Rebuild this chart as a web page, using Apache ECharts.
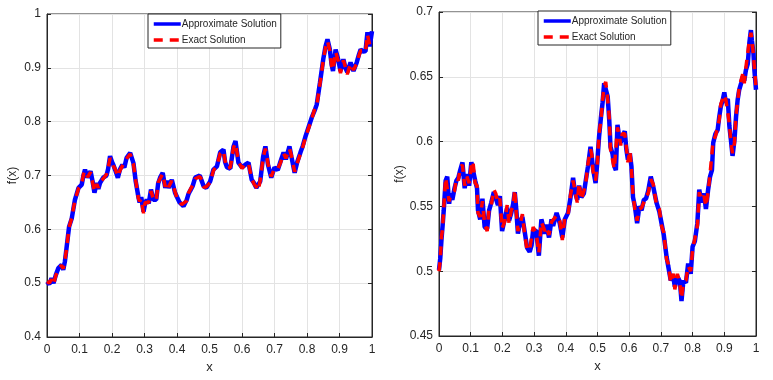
<!DOCTYPE html>
<html>
<head>
<meta charset="utf-8">
<script src="https://cdn.jsdelivr.net/npm/echarts@6/dist/echarts.min.js"></script>
<style>html,body{margin:0;padding:0;background:#fff}#c{width:773px;height:380px}</style>
</head>
<body>
<div id="c"></div>
<script>
// ---- Left panel data ----
const leftX = [0.000,0.007,0.014,0.020,0.027,0.035,0.045,0.050,0.055,0.060,0.068,0.076,0.086,0.097,0.107,0.112,0.117,0.125,0.134,0.140,0.146,0.153,0.158,0.163,0.173,0.183,0.188,0.194,0.200,0.204,0.210,0.218,0.225,0.232,0.238,0.245,0.256,0.266,0.273,0.281,0.285,0.290,0.297,0.302,0.307,0.313,0.320,0.327,0.336,0.342,0.348,0.356,0.364,0.369,0.374,0.384,0.394,0.400,0.408,0.414,0.420,0.430,0.435,0.440,0.448,0.456,0.470,0.476,0.482,0.490,0.502,0.512,0.523,0.533,0.543,0.548,0.554,0.564,0.574,0.580,0.589,0.600,0.610,0.620,0.630,0.638,0.644,0.650,0.656,0.665,0.672,0.680,0.690,0.700,0.710,0.718,0.728,0.735,0.746,0.752,0.762,0.770,0.780,0.787,0.795,0.805,0.816,0.823,0.830,0.840,0.850,0.857,0.863,0.870,0.876,0.880,0.888,0.897,0.903,0.912,0.918,0.924,0.934,0.943,0.953,0.960,0.965,0.973,0.980,0.986,0.993,1.000];
const leftApprox = [0.503,0.498,0.509,0.500,0.515,0.528,0.534,0.525,0.540,0.565,0.605,0.620,0.655,0.677,0.683,0.700,0.711,0.696,0.708,0.690,0.668,0.686,0.675,0.686,0.696,0.700,0.712,0.736,0.725,0.720,0.710,0.696,0.712,0.720,0.715,0.733,0.742,0.723,0.689,0.661,0.650,0.660,0.633,0.648,0.655,0.648,0.674,0.655,0.655,0.685,0.696,0.705,0.677,0.690,0.677,0.692,0.668,0.660,0.650,0.648,0.643,0.655,0.665,0.671,0.680,0.696,0.700,0.690,0.680,0.677,0.689,0.711,0.717,0.743,0.748,0.725,0.715,0.713,0.754,0.764,0.724,0.715,0.720,0.724,0.692,0.685,0.677,0.674,0.689,0.735,0.754,0.720,0.696,0.715,0.710,0.725,0.743,0.730,0.754,0.735,0.705,0.725,0.743,0.755,0.772,0.790,0.810,0.820,0.832,0.873,0.916,0.940,0.953,0.935,0.905,0.894,0.934,0.913,0.894,0.916,0.900,0.892,0.910,0.894,0.910,0.925,0.934,0.930,0.931,0.966,0.940,0.968];
const leftExact = [0.503,0.500,0.507,0.497,0.514,0.527,0.533,0.527,0.541,0.563,0.604,0.621,0.654,0.676,0.684,0.702,0.709,0.697,0.706,0.688,0.670,0.684,0.677,0.688,0.694,0.702,0.714,0.732,0.726,0.718,0.712,0.698,0.710,0.718,0.717,0.731,0.740,0.721,0.691,0.658,0.652,0.657,0.630,0.650,0.653,0.650,0.671,0.657,0.653,0.687,0.694,0.703,0.679,0.688,0.679,0.690,0.670,0.658,0.652,0.646,0.645,0.653,0.667,0.669,0.682,0.694,0.698,0.692,0.678,0.679,0.687,0.709,0.719,0.741,0.746,0.727,0.713,0.715,0.752,0.760,0.726,0.713,0.722,0.722,0.694,0.683,0.679,0.672,0.691,0.733,0.750,0.722,0.698,0.713,0.712,0.723,0.741,0.732,0.750,0.737,0.707,0.723,0.741,0.753,0.770,0.788,0.808,0.822,0.830,0.871,0.914,0.938,0.950,0.933,0.903,0.896,0.930,0.911,0.890,0.914,0.902,0.888,0.908,0.896,0.908,0.923,0.932,0.932,0.929,0.962,0.942,0.952];

// ---- Right panel data ----
const rightX = [0.000,0.004,0.008,0.011,0.015,0.021,0.026,0.032,0.036,0.042,0.049,0.055,0.061,0.067,0.074,0.081,0.088,0.095,0.102,0.107,0.114,0.120,0.123,0.130,0.137,0.144,0.152,0.158,0.165,0.173,0.179,0.186,0.192,0.199,0.207,0.215,0.221,0.228,0.234,0.239,0.244,0.249,0.257,0.263,0.270,0.278,0.286,0.292,0.297,0.307,0.315,0.323,0.334,0.339,0.347,0.355,0.360,0.371,0.381,0.389,0.397,0.407,0.415,0.423,0.428,0.436,0.442,0.449,0.457,0.463,0.470,0.478,0.482,0.486,0.494,0.499,0.505,0.511,0.516,0.521,0.526,0.532,0.537,0.541,0.547,0.553,0.558,0.563,0.568,0.573,0.578,0.586,0.591,0.596,0.602,0.607,0.612,0.618,0.625,0.632,0.639,0.646,0.653,0.660,0.668,0.676,0.686,0.695,0.702,0.709,0.718,0.723,0.731,0.739,0.744,0.752,0.760,0.765,0.771,0.779,0.786,0.794,0.800,0.807,0.815,0.821,0.828,0.836,0.842,0.849,0.855,0.861,0.865,0.872,0.879,0.884,0.889,0.895,0.900,0.905,0.911,0.916,0.921,0.926,0.932,0.937,0.942,0.947,0.953,0.958,0.963,0.968,0.974,0.979,0.984,0.987,0.992,0.995,1.000];
const rightApprox = [0.501,0.510,0.525,0.534,0.547,0.570,0.573,0.552,0.560,0.555,0.564,0.570,0.572,0.578,0.584,0.564,0.575,0.566,0.584,0.583,0.570,0.564,0.547,0.540,0.556,0.534,0.533,0.547,0.553,0.561,0.562,0.551,0.558,0.531,0.540,0.549,0.539,0.545,0.552,0.561,0.547,0.529,0.539,0.542,0.531,0.518,0.515,0.520,0.532,0.531,0.512,0.540,0.529,0.536,0.526,0.540,0.535,0.545,0.537,0.526,0.540,0.545,0.557,0.572,0.562,0.555,0.566,0.557,0.560,0.570,0.581,0.596,0.588,0.579,0.568,0.583,0.604,0.619,0.630,0.645,0.644,0.635,0.617,0.596,0.591,0.581,0.578,0.613,0.604,0.599,0.604,0.608,0.594,0.586,0.591,0.581,0.557,0.550,0.537,0.550,0.547,0.555,0.556,0.562,0.573,0.565,0.553,0.546,0.537,0.528,0.511,0.504,0.493,0.496,0.488,0.496,0.492,0.477,0.493,0.491,0.506,0.498,0.519,0.523,0.537,0.563,0.553,0.560,0.548,0.563,0.573,0.578,0.599,0.606,0.609,0.619,0.627,0.632,0.638,0.630,0.633,0.612,0.601,0.589,0.601,0.619,0.632,0.640,0.645,0.650,0.647,0.655,0.660,0.676,0.686,0.678,0.668,0.655,0.640];
const rightExact = [0.500,0.509,0.527,0.532,0.549,0.572,0.571,0.554,0.558,0.557,0.562,0.572,0.570,0.580,0.582,0.566,0.573,0.568,0.582,0.585,0.568,0.566,0.545,0.542,0.554,0.536,0.531,0.549,0.551,0.563,0.560,0.553,0.556,0.533,0.538,0.551,0.537,0.547,0.550,0.563,0.545,0.531,0.537,0.544,0.529,0.516,0.517,0.518,0.534,0.529,0.514,0.538,0.531,0.534,0.528,0.538,0.537,0.543,0.539,0.524,0.542,0.543,0.559,0.570,0.564,0.553,0.568,0.555,0.562,0.568,0.583,0.594,0.590,0.577,0.570,0.581,0.606,0.617,0.632,0.643,0.646,0.633,0.619,0.594,0.593,0.579,0.580,0.611,0.606,0.597,0.606,0.606,0.596,0.584,0.593,0.579,0.559,0.548,0.539,0.548,0.549,0.553,0.558,0.560,0.571,0.567,0.551,0.548,0.535,0.530,0.509,0.506,0.491,0.498,0.486,0.498,0.490,0.479,0.491,0.493,0.504,0.500,0.517,0.525,0.535,0.561,0.555,0.558,0.550,0.561,0.575,0.576,0.601,0.604,0.611,0.617,0.629,0.630,0.636,0.632,0.631,0.614,0.599,0.591,0.599,0.621,0.630,0.642,0.643,0.652,0.645,0.657,0.658,0.678,0.684,0.680,0.666,0.657,0.642];

// ---- Axis ticks ----
const xTicks = {min: 0, max: 1, interval: 0.1};
const leftYTicks = {min: 0.4, max: 1, interval: 0.1};
const rightYTicks = {min: 0.45, max: 0.7, interval: 0.05};
const names = ['Approximate Solution', 'Exact Solution'];

const zip = (xs, ys) => xs.map((x, i) => [x, ys[i]]);
const axisColor = '#262626';
const font = 'Liberation Sans, Arial, sans-serif';

function xAxisFor(gi) {
  return {
    type: 'value', gridIndex: gi, min: xTicks.min, max: xTicks.max, interval: xTicks.interval,
    name: 'x', nameLocation: 'middle', nameGap: 24,
    nameTextStyle: {color: axisColor, fontSize: 13, fontFamily: font},
    axisLine: {show: true, onZero: false, lineStyle: {color: axisColor, width: 1}},
    axisTick: {show: true, inside: true, length: 4, lineStyle: {color: axisColor}},
    axisLabel: {color: axisColor, fontSize: 12, fontFamily: font, margin: 7},
    splitLine: {show: true, lineStyle: {color: '#e3e3e3', width: 1}}
  };
}
function yAxisFor(gi, t, gap) {
  return {
    type: 'value', gridIndex: gi, min: t.min, max: t.max, interval: t.interval,
    name: 'f(x)', nameLocation: 'middle', nameGap: gap, nameRotate: 90,
    nameTextStyle: {color: axisColor, fontSize: 12, fontFamily: font},
    axisLine: {show: true, onZero: false, lineStyle: {color: axisColor, width: 1}},
    axisTick: {show: true, inside: true, length: 4, lineStyle: {color: axisColor}},
    axisLabel: {color: axisColor, fontSize: 12, fontFamily: font, margin: 6},
    splitLine: {show: true, lineStyle: {color: '#e3e3e3', width: 1}}
  };
}
function yRightFor(gi, t) {
  return {
    type: 'value', gridIndex: gi, min: t.min, max: t.max, interval: t.interval, position: 'right',
    axisLine: {show: true, onZero: false, lineStyle: {color: axisColor, width: 1}},
    axisTick: {show: true, inside: true, length: 4, lineStyle: {color: axisColor}},
    axisLabel: {show: false}, splitLine: {show: false}
  };
}
function lineSeries(name, xi, yi, data, isExact) {
  return {
    name: name, type: 'line', xAxisIndex: xi, yAxisIndex: yi, data: data,
    symbol: 'none', animation: false, z: isExact ? 3 : 2,
    lineStyle: isExact ? {color: '#ff0000', width: 3.5, type: [9, 7]} : {color: '#0000ff', width: 4.5},
    itemStyle: {color: isExact ? '#ff0000' : '#0000ff'}
  };
}
function legendFor(left, top) {
  return {
    data: names, left: left, top: top, orient: 'vertical',
    itemWidth: 27, itemHeight: 10, itemGap: 6,
    padding: [5, 4, 3, 4], borderColor: axisColor, borderWidth: 1, backgroundColor: '#fff',
    itemStyle: {opacity: 0},
    lineStyle: {width: 3.5},
    textStyle: {color: axisColor, fontSize: 10, fontFamily: font, padding: [0, 0, 0, -4]},
    selectedMode: false
  };
}

const chart = echarts.init(document.getElementById('c'), null, {renderer: 'canvas'});
chart.setOption({
  backgroundColor: '#fff',
  animation: false,
  grid: [
    {left: 47, top: 14, right: 401, bottom: 43, show: true, borderColor: axisColor, borderWidth: 1, containLabel: false},
    {left: 439, top: 12, right: 17, bottom: 44, show: true, borderColor: axisColor, borderWidth: 1, containLabel: false}
  ],
  xAxis: [xAxisFor(0), xAxisFor(1)],
  yAxis: [yAxisFor(0, leftYTicks, 28), yAxisFor(1, rightYTicks, 32), yRightFor(0, leftYTicks), yRightFor(1, rightYTicks)],
  legend: [legendFor(148, 14), legendFor(538, 11)],
  series: [
    lineSeries(names[0], 0, 0, zip(leftX, leftApprox), false),
    lineSeries(names[1], 0, 0, zip(leftX, leftExact), true),
    lineSeries(names[0], 1, 1, zip(rightX, rightApprox), false),
    lineSeries(names[1], 1, 1, zip(rightX, rightExact), true)
  ]
});
</script>
</body>
</html>
